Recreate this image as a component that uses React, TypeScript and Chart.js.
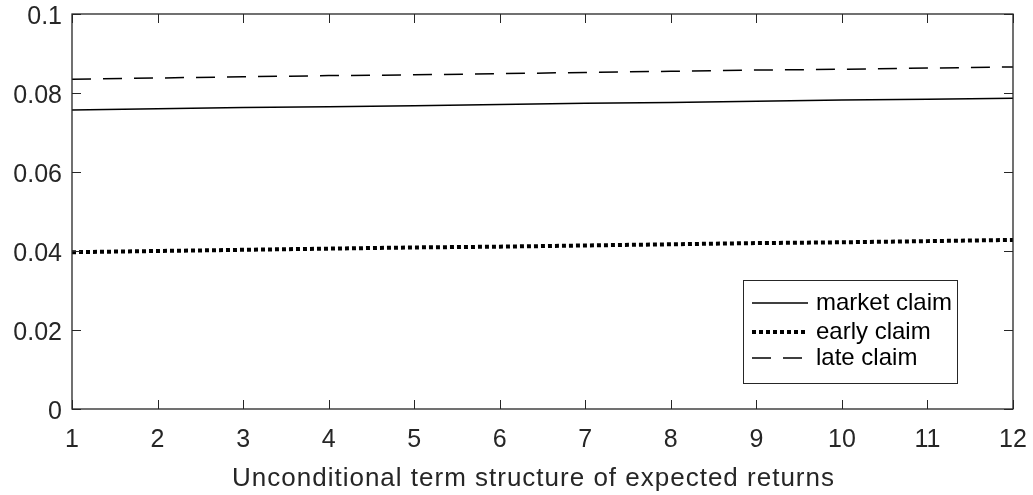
import React, { useEffect, useRef } from "react";
import { Chart, registerables } from "chart.js";

Chart.register(...registerables);

const horizons = ["1", "2", "3", "4", "5", "6", "7", "8", "9", "10", "11", "12"];
const marketClaim = [0.0757, 0.0760, 0.0763, 0.0765, 0.0768, 0.0771, 0.0774, 0.0776, 0.0779, 0.0782, 0.0784, 0.0787];
const earlyClaim = [0.0397, 0.0400, 0.0403, 0.0406, 0.0409, 0.0411, 0.0414, 0.0417, 0.0420, 0.0422, 0.0425, 0.0428];
const lateClaim = [0.0835, 0.0838, 0.0841, 0.0844, 0.0846, 0.0849, 0.0852, 0.0855, 0.0858, 0.0860, 0.0863, 0.0866];
const yTicks = [0, 0.02, 0.04, 0.06, 0.08, 0.1];
const yTickLabels = ["0", "0.02", "0.04", "0.06", "0.08", "0.1"];
const seriesNames = ["market claim", "early claim", "late claim"];
const xTitle = "Unconditional term structure of expected returns";

const FONT = "'Liberation Sans', Arial, sans-serif";
const AX = "#262626";

const boxPlugin = {
  id: "matlabBox",
  afterDraw(chart: any) {
    const { ctx, chartArea: a, scales } = chart;
    const xs = scales.x;
    const ys = scales.y;
    ctx.save();
    ctx.strokeStyle = AX;
    ctx.lineWidth = 1.3;
    ctx.strokeRect(a.left, a.top, a.right - a.left, a.bottom - a.top);
    const tl = 9;
    ctx.beginPath();
    for (let i = 0; i < horizons.length; i++) {
      const px = Math.round(xs.getPixelForValue(i)) + 0.5;
      ctx.moveTo(px, a.bottom);
      ctx.lineTo(px, a.bottom - tl);
      ctx.moveTo(px, a.top);
      ctx.lineTo(px, a.top + tl);
    }
    for (const v of yTicks) {
      const py = Math.round(ys.getPixelForValue(v)) + 0.5;
      ctx.moveTo(a.left, py);
      ctx.lineTo(a.left + tl, py);
      ctx.moveTo(a.right, py);
      ctx.lineTo(a.right - tl, py);
    }
    ctx.lineWidth = 1;
    ctx.stroke();

    // x-axis title
    ctx.fillStyle = AX;
    ctx.font = `26px ${FONT}`;
    (ctx as any).letterSpacing = "1px";
    ctx.textAlign = "center";
    ctx.textBaseline = "alphabetic";
    ctx.fillText(xTitle, (a.left + a.right) / 2 - 9, a.bottom + 77);
    (ctx as any).letterSpacing = "0px";

    // legend
    const lx = a.right - 270;
    const ly = a.bottom - 129;
    const lw = 214;
    const lh = 103;
    ctx.fillStyle = "#ffffff";
    ctx.fillRect(lx, ly, lw, lh);
    ctx.strokeStyle = AX;
    ctx.lineWidth = 1;
    ctx.strokeRect(lx + 0.5, ly + 0.5, lw, lh);
    const rows = [23, 52, 78];
    const styles = [
      { w: 1.5, dash: [] as number[] },
      { w: 4, dash: [4, 3] },
      { w: 1.5, dash: [19, 12] },
    ];
    ctx.font = `24px ${FONT}`;
    ctx.textBaseline = "middle";
    ctx.textAlign = "left";
    for (let i = 0; i < 3; i++) {
      const y = ly + rows[i];
      ctx.beginPath();
      ctx.setLineDash(styles[i].dash);
      ctx.lineWidth = styles[i].w;
      ctx.strokeStyle = "#000000";
      ctx.moveTo(lx + 9, y);
      ctx.lineTo(lx + 65, y);
      ctx.stroke();
      ctx.setLineDash([]);
      ctx.fillStyle = "#000000";
      ctx.fillText(seriesNames[i], lx + 73, y);
    }
    ctx.restore();
  },
};

export default function App() {
  const ref = useRef<HTMLCanvasElement | null>(null);
  useEffect(() => {
    if (!ref.current) return;
    const chart = new Chart(ref.current, {
      type: "line",
      data: {
        labels: horizons,
        datasets: [
          {
            label: seriesNames[0],
            data: marketClaim,
            borderColor: "#000000",
            borderWidth: 1.5,
            pointRadius: 0,
            tension: 0,
          },
          {
            label: seriesNames[1],
            data: earlyClaim,
            borderColor: "#000000",
            borderWidth: 4,
            borderDash: [4, 3],
            pointRadius: 0,
            tension: 0,
          },
          {
            label: seriesNames[2],
            data: lateClaim,
            borderColor: "#000000",
            borderWidth: 1.5,
            borderDash: [19, 12],
            pointRadius: 0,
            tension: 0,
          },
        ],
      },
      options: {
        animation: false,
        responsive: true,
        maintainAspectRatio: false,
        layout: { padding: { left: 0, top: 14, right: 0, bottom: 0 } },
        plugins: {
          legend: { display: false },
          tooltip: { enabled: false },
        },
        scales: {
          x: {
            type: "category",
            offset: false,
            grid: { display: false, drawTicks: false },
            border: { display: false },
            ticks: {
              color: AX,
              font: { family: FONT, size: 25 },
              padding: 16,
              maxRotation: 0,
              autoSkip: false,
            },
            afterFit: (s: any) => {
              s.height = 86;
              s.paddingLeft = 0;
              s.paddingRight = 20;
            },
          },
          y: {
            min: 0,
            max: 0.1,
            grid: { display: false, drawTicks: false },
            border: { display: false },
            afterBuildTicks: (s: any) => {
              s.ticks = yTicks.map((v) => ({ value: v }));
            },
            ticks: {
              color: AX,
              font: { family: FONT, size: 25 },
              padding: 10,
              labelOffset: 3,
              callback: (v: any) => {
                const i = yTicks.findIndex((t) => Math.abs(t - Number(v)) < 1e-9);
                return i >= 0 ? yTickLabels[i] : "";
              },
            },
            afterFit: (s: any) => {
              s.width = 72;
              s.paddingTop = 0;
              s.paddingBottom = 0;
            },
          },
        },
      },
      plugins: [boxPlugin],
    });
    return () => chart.destroy();
  }, []);
  return (
    <div style={{ position: "absolute", left: 0, top: 0, width: 1033, height: 495, background: "#fff" }}>
      <canvas ref={ref} />
    </div>
  );
}
